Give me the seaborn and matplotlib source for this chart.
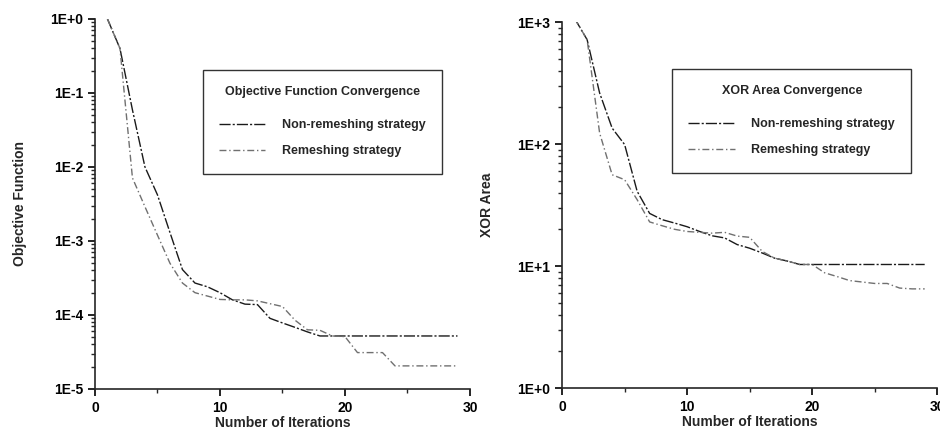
import numpy as np
import pandas as pd
import matplotlib
matplotlib.use("Agg")
import matplotlib.pyplot as plt
import seaborn as sns
from matplotlib.ticker import FuncFormatter, LogLocator, MultipleLocator

# Values
iterations = list(range(1, 30))

obj_non_remesh = [1.0, 0.4, 0.059, 0.010, 0.0042, 0.0013, 4.1e-4, 2.7e-4, 2.4e-4, 2.0e-4,
                  1.6e-4, 1.4e-4, 1.38e-4, 9.0e-5, 7.8e-5, 6.8e-5, 5.9e-5, 5.2e-5, 5.2e-5, 5.2e-5,
                  5.2e-5, 5.2e-5, 5.2e-5, 5.2e-5, 5.2e-5, 5.2e-5, 5.2e-5, 5.2e-5, 5.2e-5]
obj_remesh = [1.0, 0.4, 0.0071, 0.0029, 0.0012, 5.0e-4, 2.7e-4, 2.0e-4, 1.8e-4, 1.62e-4,
              1.6e-4, 1.6e-4, 1.55e-4, 1.42e-4, 1.3e-4, 8.5e-5, 6.3e-5, 6.2e-5, 5.2e-5, 5.1e-5,
              3.1e-5, 3.1e-5, 3.1e-5, 2.05e-5, 2.05e-5, 2.05e-5, 2.05e-5, 2.05e-5, 2.05e-5]

xor_non_remesh = [1070, 716, 262, 135, 99, 41, 27, 24, 22.5, 21,
                  19.2, 17.7, 17, 15, 14, 12.8, 11.6, 11, 10.3, 10.3,
                  10.3, 10.3, 10.3, 10.3, 10.3, 10.3, 10.3, 10.3, 10.3]
xor_remesh = [1070, 716, 123, 56, 51, 35, 23, 21.4, 20, 19.2,
              18.9, 18.6, 18.9, 17.6, 17.2, 13.2, 11.6, 11, 10.3, 10.3,
              8.8, 8.2, 7.6, 7.4, 7.2, 7.2, 6.6, 6.5, 6.5]

strategies = ["Non-remeshing strategy", "Remeshing strategy"]

sns.set_style("ticks")
plt.rcParams['font.family'] = ['Liberation Sans', 'DejaVu Sans']
plt.rcParams['font.weight'] = 'bold'

def long_df(a, b):
    return pd.concat([
        pd.DataFrame({"iter": iterations, "value": a, "strategy": strategies[0]}),
        pd.DataFrame({"iter": iterations, "value": b, "strategy": strategies[1]}),
    ])

fig = plt.figure(figsize=(9.4, 4.4), dpi=100)
ax1 = fig.add_axes([0.101, 0.116, 0.399, 0.841])
ax2 = fig.add_axes([0.598, 0.118, 0.399, 0.832])

palette = {strategies[0]: "#1a1a1a", strategies[1]: "#707070"}
dashes = {strategies[0]: (8, 1.5, 1.5, 1.5), strategies[1]: (5, 2, 1, 2)}

panels = [
    (ax1, long_df(obj_non_remesh, obj_remesh), "Objective Function",
     "Objective Function Convergence", (1e-5, 1), (0.288, 0.862)),
    (ax2, long_df(xor_non_remesh, xor_remesh), "XOR Area",
     "XOR Area Convergence", (1, 1e3), (0.293, 0.872)),
]

for ax, df, ylab, title, ylim, legpos in panels:
    sns.lineplot(data=df, x="iter", y="value", hue="strategy", style="strategy",
                 palette=palette, dashes=dashes, linewidth=1.0, ax=ax)
    ax.set_yscale("log")
    ax.set_ylim(*ylim)
    ax.set_xlim(0, 30)
    ax.xaxis.set_major_locator(MultipleLocator(10))
    ax.xaxis.set_minor_locator(MultipleLocator(5))
    ax.yaxis.set_major_locator(LogLocator(base=10))
    ax.yaxis.set_minor_locator(LogLocator(base=10, subs=np.arange(2, 10)))
    ax.yaxis.set_major_formatter(FuncFormatter(lambda v, p: f"1E{int(round(np.log10(v))):+d}"))
    ax.tick_params(axis="both", which="major", length=5, width=1.2, labelsize=10, colors="black")
    ax.tick_params(axis="both", which="minor", length=3, width=1.0)
    for lab in ax.get_xticklabels() + ax.get_yticklabels():
        lab.set_fontweight("bold")
    ax.set_xlabel("Number of Iterations", fontsize=10, fontweight="bold", labelpad=1)
    ax.set_ylabel(ylab, fontsize=10, fontweight="bold", labelpad=17)
    for s in ["top", "right"]:
        ax.spines[s].set_visible(False)
    for s in ["left", "bottom"]:
        ax.spines[s].set_linewidth(1.2)
    leg = ax.legend(title=title, loc="upper left", bbox_to_anchor=legpos,
                    frameon=True, fancybox=False, edgecolor="black", fontsize=9,
                    title_fontsize=9, handlelength=3.7, handletextpad=1.35,
                    borderpad=1.3, labelspacing=1.15, borderaxespad=0)
    leg.get_frame().set_linewidth(1.0)
    leg.get_title().set_fontweight("bold")
    leg._legend_box.sep = 15
    for t in leg.get_texts():
        t.set_fontweight("bold")

fig.savefig("out.png", dpi=100)
